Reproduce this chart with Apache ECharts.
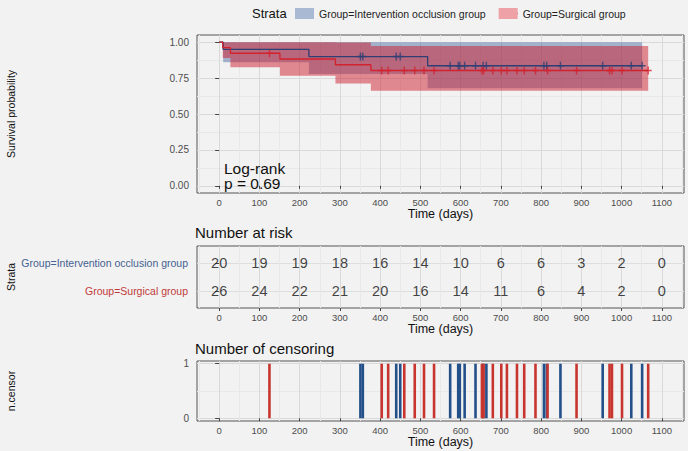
<!DOCTYPE html>
<html><head><meta charset="utf-8">
<script src="https://cdn.jsdelivr.net/npm/echarts@6/dist/echarts.min.js"></script>
<style>html,body{margin:0;padding:0;background:#f2f2f2;}#c{width:688px;height:451px;}</style>
</head><body><div id="c"></div>
<script>
// ---------- data ----------
const timeTicks = [0,100,200,300,400,500,600,700,800,900,1000,1100];
const timeMinor = [-50,50,150,250,350,450,550,650,750,850,950,1050,1150];
const survTicks = [0,0.25,0.5,0.75,1];
const survMinor = [0.125,0.375,0.625,0.875];
const groups = ['Group=Intervention occlusion group','Group=Surgical group'];

// Intervention occlusion group
const ivTime  = [0, 10, 223, 518, 1051];
const ivSurv  = [1, 0.95, 0.90, 0.836, 0.836];
const ivLower = [1, 0.86, 0.778, 0.68, 0.68];
const ivUpper = [1, 1, 1, 1, 1];
const ivCensor = [351,357,440,450,574,594,598,610,637,656,664,807,814,848,953,1024,1051];

// Surgical group
const sgTime  = [0, 9, 28, 151, 289, 377, 1066];
const sgSurv  = [1, 0.962, 0.923, 0.883, 0.843, 0.803, 0.803];
const sgLower = [1, 0.89, 0.826, 0.767, 0.713, 0.662, 0.662];
const sgUpper = [1, 1, 1, 1, 0.997, 0.974, 0.974];
const sgCensor = [125,404,420,460,486,509,534,653,657,680,701,715,740,758,786,816,888,970,976,1001,1066];

// Number at risk
const riskTimes = [0,100,200,300,400,500,600,700,800,900,1000,1100];
const ivRisk = [20,19,19,18,16,14,10,6,6,3,2,0];
const sgRisk = [26,24,22,21,20,16,14,11,6,4,2,0];

const logRankText = ['Log-rank','p = 0.69'];

// ---------- styling ----------
const FONT = 'Liberation Sans, Arial, Helvetica, sans-serif';
const BLUE = '#2f3f73', RED = '#d2222d';
const BLUE_BAND = 'rgba(45,80,150,0.40)', RED_BAND = 'rgba(205,30,45,0.50)';
const BLUE_BAR = '#24508a', RED_BAR = '#c8352f';
const PLUS = 'path://M4,0H6V4H10V6H6V10H4V6H0V4H4Z';

function survAt(times, surv, t){ let s = surv[0]; for (let i=0;i<times.length;i++){ if (times[i] <= t) s = surv[i]; } return s; }

const X_MIN = -55, X_MAX = 1155;
function majorX(grid, nameGap){
  return {type:'value', gridIndex:grid, min:X_MIN, max:X_MAX,
    name:'Time (days)', nameLocation:'middle', nameGap:nameGap, nameMoveOverlap:false,
    nameTextStyle:{fontFamily:FONT, fontSize:12.5, color:'#111'},
    axisLine:{show:false},
    axisTick:{show:true, customValues:timeTicks, length:3, lineStyle:{color:'#444'}},
    axisLabel:{show:true, customValues:timeTicks, margin:4, fontFamily:FONT, fontSize:9.5, color:'#4d4d4d', formatter:v=>String(v)},
    splitLine:{show:true, lineStyle:{color:'#d9d9d9', width:1}}};
}
function minorX(grid){
  return {type:'value', gridIndex:grid, min:X_MIN, max:X_MAX, position:'top',
    axisLine:{show:false}, axisTick:{show:false, customValues:timeMinor}, axisLabel:{show:false},
    splitLine:{show:true, lineStyle:{color:'#e8e8e8', width:1}}};
}
function yName(name){
  return {name:name, nameLocation:'middle', nameGap:181, nameMoveOverlap:false,
    nameTextStyle:{fontFamily:FONT, fontSize:10.5, color:'#111'}};
}

const xAxes = [majorX(0,14), minorX(0), majorX(1,14), minorX(1), majorX(2,14), minorX(2)];

const yAxes = [
  Object.assign({type:'value', gridIndex:0, min:-0.05, max:1.05,
    axisLine:{show:false},
    axisTick:{show:true, customValues:survTicks, length:4, lineStyle:{color:'#444'}},
    axisLabel:{show:true, customValues:survTicks, margin:8, fontFamily:FONT, fontSize:10, color:'#4d4d4d', formatter:v=>Number(v).toFixed(2)},
    splitLine:{show:true, lineStyle:{color:'#d9d9d9'}}}, yName('Survival probability')),
  {type:'value', gridIndex:0, min:-0.05, max:1.05, position:'right',
    axisLine:{show:false}, axisTick:{show:false, customValues:survMinor}, axisLabel:{show:false},
    splitLine:{show:true, lineStyle:{color:'#e8e8e8'}}},
  Object.assign({type:'value', gridIndex:1, min:0.4, max:2.6, inverse:true,
    axisLine:{show:false},
    axisTick:{show:true, customValues:[1,2], length:4, lineStyle:{color:'#444'}},
    axisLabel:{show:true, customValues:[1,2], margin:9, fontFamily:FONT, fontSize:10.5,
      formatter:v=> (Math.round(v)===1 ? '{a|'+groups[0]+'}' : '{b|'+groups[1]+'}'),
      rich:{a:{color:'#45618f', fontFamily:FONT, fontSize:10.5}, b:{color:'#c13a3a', fontFamily:FONT, fontSize:10.5}}},
    splitLine:{show:true, lineStyle:{color:'#dedede'}}}, yName('Strata')),
  {type:'value', gridIndex:1, min:0.4, max:2.6, inverse:true, position:'right', show:false},
  Object.assign({type:'value', gridIndex:2, min:-0.05, max:1.05,
    axisLine:{show:false},
    axisTick:{show:true, customValues:[0,1], length:4, lineStyle:{color:'#444'}},
    axisLabel:{show:true, customValues:[0,1], margin:8, fontFamily:FONT, fontSize:10, color:'#4d4d4d'},
    splitLine:{show:true, lineStyle:{color:'#d9d9d9'}}}, yName('n.censor')),
  {type:'value', gridIndex:2, min:-0.05, max:1.05, position:'right',
    axisLine:{show:false}, axisTick:{show:false, customValues:[0.5]}, axisLabel:{show:false},
    splitLine:{show:true, lineStyle:{color:'#e8e8e8'}}}
];

// confidence band drawn as one step polygon through the axis scales
function band(id, times, lower, upper, color){
  return {type:'custom', name:id+' band', xAxisIndex:0, yAxisIndex:0, silent:true, clip:true,
    data:[[times[0], upper[0]]],
    renderItem:function(params, api){
      const pts = [];
      for (let i=0;i<times.length-1;i++){ pts.push(api.coord([times[i], upper[i]])); pts.push(api.coord([times[i+1], upper[i]])); }
      for (let i=times.length-2;i>=0;i--){ pts.push(api.coord([times[i+1], lower[i]])); pts.push(api.coord([times[i], lower[i]])); }
      return {type:'polygon', shape:{points:pts}, style:{fill:color}};
    }};
}
function curve(name, times, surv, color){
  return {type:'line', name:name, xAxisIndex:0, yAxisIndex:0, step:'end', symbol:'none', silent:true,
    itemStyle:{color:color}, lineStyle:{color:color, width:1.3}, data:times.map((t,i)=>[t, surv[i]])};
}
function marks(name, cens, times, surv, color){
  return {type:'scatter', name:name+' censor', xAxisIndex:0, yAxisIndex:0, symbol:PLUS, symbolSize:[7,8], silent:true,
    itemStyle:{color:color}, data:cens.map(t=>[t, survAt(times, surv, t)])};
}
function risk(row, counts){
  return {type:'scatter', name:'risk'+row, xAxisIndex:2, yAxisIndex:2, symbolSize:1, silent:true,
    itemStyle:{color:'rgba(0,0,0,0)'},
    label:{show:true, position:'inside', formatter:p=>String(p.value[2]), fontFamily:FONT, fontSize:14.5, color:'#111'},
    data:riskTimes.map((t,i)=>[t, row, counts[i]])};
}
function bars(name, cens, color, last){
  const s = {type:'bar', name:name+' n.censor', xAxisIndex:4, yAxisIndex:4, barWidth:2.6, silent:true,
    itemStyle:{color:color}, data:cens.map(t=>[t, 1])};
  if (last) s.barGap = '-100%';
  return s;
}

const series = [
  band('iv', ivTime, ivLower, ivUpper, BLUE_BAND),
  band('sg', sgTime, sgLower, sgUpper, RED_BAND),
  curve(groups[0], ivTime, ivSurv, BLUE), curve(groups[1], sgTime, sgSurv, RED),
  marks('iv', ivCensor, ivTime, ivSurv, BLUE), marks('sg', sgCensor, sgTime, sgSurv, RED),
  risk(1, ivRisk), risk(2, sgRisk),
  bars('iv', ivCensor, BLUE_BAR, false), bars('sg', sgCensor, RED_BAR, true)
];

const gridBase = {left:197, width:487, show:true, backgroundColor:'transparent', borderColor:'#555', borderWidth:1, containLabel:false, outerBoundsMode:'none'};

const option = {
  animation:false,
  backgroundColor:'#f2f2f2',
  textStyle:{fontFamily:FONT},
  grid:[
    Object.assign({top:35, height:158}, gridBase),
    Object.assign({top:246, height:62}, gridBase),
    Object.assign({top:361, height:60}, gridBase)
  ],
  title:[
    {text:'Number at risk', left:195, top:225, padding:0, textStyle:{fontFamily:FONT, fontSize:15, fontWeight:'normal', color:'#111'}},
    {text:'Number of censoring', left:195, top:341, padding:0, textStyle:{fontFamily:FONT, fontSize:15, fontWeight:'normal', color:'#111'}}
  ],
  legend:{left:295, top:8, padding:0, itemWidth:19, itemHeight:11, itemGap:13, icon:'rect', selectedMode:false,
    itemStyle:{borderWidth:0},
    textStyle:{fontFamily:FONT, fontSize:10.5, color:'#222'},
    data:[{name:groups[0], itemStyle:{color:'#a9b9d3', borderWidth:0}}, {name:groups[1], itemStyle:{color:'#eea2a8', borderWidth:0}}]},
  xAxis:xAxes,
  yAxis:yAxes,
  graphic:[
    {type:'text', left:252, top:7, style:{text:'Strata', fontFamily:FONT, fontSize:13, fill:'#111'}},
    {type:'line', shape:{x1:295, y1:13.5, x2:314, y2:13.5}, style:{stroke:BLUE, lineWidth:1.2}},
    {type:'line', shape:{x1:304.5, y1:9.5, x2:304.5, y2:17.5}, style:{stroke:BLUE, lineWidth:1.4}},
    {type:'line', shape:{x1:499, y1:13.5, x2:518, y2:13.5}, style:{stroke:RED, lineWidth:1.2}},
    {type:'line', shape:{x1:508.5, y1:9.5, x2:508.5, y2:17.5}, style:{stroke:RED, lineWidth:1.4}},
    {type:'text', x:224, y:168, z:10, style:{text:logRankText[0], fontFamily:FONT, fontSize:15.5, fill:'#111', verticalAlign:'middle'}},
    {type:'text', x:224, y:183.8, z:10, style:{text:logRankText[1], fontFamily:FONT, fontSize:15.5, fill:'#111', verticalAlign:'middle'}}
  ],
  series:series
};

const chart = echarts.init(document.getElementById('c'), null, {renderer:'svg'});
chart.setOption(option);
</script>
</body></html>
